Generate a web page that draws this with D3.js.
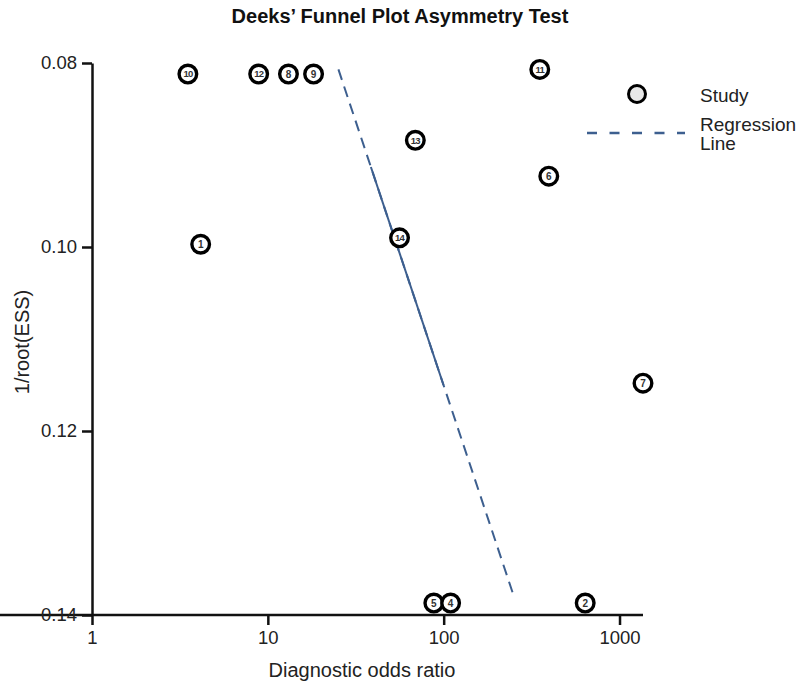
<!DOCTYPE html>
<html>
<head>
<meta charset="utf-8">
<script src="https://cdn.jsdelivr.net/npm/d3@7"></script>
<style>
  body { margin: 0; background: #fff; }
  text { font-family: "Liberation Sans", Arial, sans-serif; }
</style>
</head>
<body>
<svg id="plot" width="800" height="682"></svg>
<script>
// study ids, diagnostic odds ratio and 1/sqrt(ESS)
const studies = ["1", "2", "4", "5", "6", "7", "8", "9", "10", "11", "12", "13", "14"];
const dor     = [4.15, 638, 109.5, 87.9, 396, 1360, 13.1, 18.2, 3.51, 352, 8.87, 69.0, 56.1];
const invEss  = [0.0997, 0.1387, 0.1387, 0.1387, 0.0923, 0.1148, 0.0812, 0.0812, 0.0812, 0.0807, 0.0812, 0.0884, 0.0990];

// regression line end points (DOR, 1/root(ESS)); solid part between solidY
const regX = [25.2, 253];
const regY = [0.0807, 0.1382];
const solidY = [0.0913, 0.1150];

const xTicks = [1, 10, 100, 1000];
const yTicks = [0.08, 0.10, 0.12, 0.14];

const svg = d3.select('#plot');
const lineColor = '#3d5f8f';

const x = d3.scaleLog().domain([1, d3.max(dor)]).range([92, 643]);
const y = d3.scaleLinear().domain([0.08, 0.14]).range([63, 615]);

// title
svg.append('text').attr('x', 400).attr('y', 23).attr('text-anchor', 'middle')
  .attr('font-size', 20).attr('font-weight', 'bold').attr('fill', '#111')
  .text('Deeks\u2019 Funnel Plot Asymmetry Test');

// axes
const xAxis = svg.append('g').attr('transform', 'translate(0,615)')
  .call(d3.axisBottom(x).tickValues(xTicks).tickFormat(d3.format('d')).tickSize(10).tickSizeOuter(0));
const yAxis = svg.append('g').attr('transform', 'translate(92,0)')
  .call(d3.axisLeft(y).tickValues(yTicks).tickFormat(d3.format('.2f')).tickSize(10).tickSizeOuter(0));
[xAxis, yAxis].forEach(a => {
  a.select('.domain').attr('stroke', '#111').attr('stroke-width', 2.5);
  a.selectAll('.tick line').attr('stroke', '#111').attr('stroke-width', 2.5);
  a.selectAll('.tick text').attr('font-size', 18.5).attr('fill', '#222')
    .attr('font-family', '"Liberation Sans", Arial, sans-serif');
});
xAxis.select('.domain').attr('d', 'M-10,0H0V0H643');
xAxis.selectAll('.tick text').attr('y', 16);
yAxis.selectAll('.tick text').attr('x', -15);

svg.append('text').attr('x', 362).attr('y', 677).attr('text-anchor', 'middle')
  .attr('font-size', 20).attr('fill', '#222').text('Diagnostic odds ratio');
svg.append('text').attr('transform', 'translate(29,342) rotate(-90)').attr('text-anchor', 'middle')
  .attr('font-size', 20).attr('fill', '#222').text('1/root(ESS)');

// regression line
const regAt = v => {
  const t = (v - regY[0]) / (regY[1] - regY[0]);
  return Math.pow(10, Math.log10(regX[0]) + t * (Math.log10(regX[1]) - Math.log10(regX[0])));
};
svg.append('line')
  .attr('x1', x(regX[0])).attr('y1', y(regY[0])).attr('x2', x(regX[1])).attr('y2', y(regY[1]))
  .attr('stroke', lineColor).attr('stroke-width', 2).attr('stroke-dasharray', '11,7');
svg.append('line')
  .attr('x1', x(regAt(solidY[0]))).attr('y1', y(solidY[0]))
  .attr('x2', x(regAt(solidY[1]))).attr('y2', y(solidY[1]))
  .attr('stroke', lineColor).attr('stroke-width', 2);

// study points
const pts = studies.map((s, i) => ({id: s, x: dor[i], y: invEss[i]}))
  .sort((a, b) => a.x - b.x);
const g = svg.append('g').selectAll('g').data(pts).join('g')
  .attr('transform', d => `translate(${x(d.x)},${y(d.y)})`);
g.append('circle').attr('r', 8.8).attr('fill', '#fff').attr('stroke', '#000').attr('stroke-width', 3.4);
g.append('text').attr('text-anchor', 'middle').attr('dy', '0.36em')
  .attr('font-size', d => d.id.length > 1 ? 9.5 : 10).attr('font-weight', 'bold')
  .attr('letter-spacing', d => d.id.length > 1 ? -0.8 : 0).attr('fill', '#333').text(d => d.id);

// legend
const lg = svg.append('g');
lg.append('circle').attr('cx', 637).attr('cy', 94).attr('r', 8.5)
  .attr('fill', '#e8e8e8').attr('stroke', '#000').attr('stroke-width', 3);
lg.append('text').attr('x', 700).attr('y', 102).attr('font-size', 19).attr('fill', '#222').text('Study');
lg.append('line').attr('x1', 587).attr('x2', 685).attr('y1', 133).attr('y2', 133)
  .attr('stroke', lineColor).attr('stroke-width', 2.5).attr('stroke-dasharray', '10,12.5');
lg.append('text').attr('x', 700).attr('y', 131).attr('font-size', 19).attr('fill', '#222').text('Regression');
lg.append('text').attr('x', 700).attr('y', 150).attr('font-size', 19).attr('fill', '#222').text('Line');
</script>
</body>
</html>
